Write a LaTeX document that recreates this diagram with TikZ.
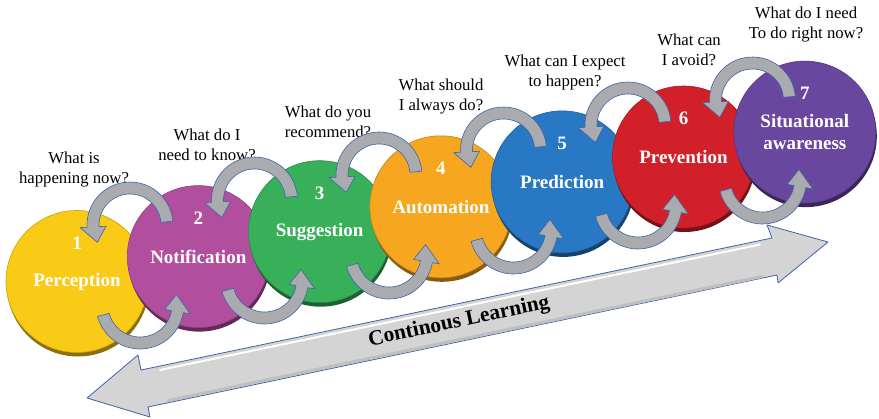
\documentclass[tikz,border=0pt]{standalone}
\usepackage{fontspec}
\setmainfont{Liberation Serif}
\usetikzlibrary{calc,shadows}
\definecolor{perc}{HTML}{F9CB17}
\definecolor{noti}{HTML}{B14E9E}
\definecolor{sugg}{HTML}{38AF59}
\definecolor{auto}{HTML}{F7A620}
\definecolor{pred}{HTML}{2878C3}
\definecolor{prev}{HTML}{D2202A}
\definecolor{situ}{HTML}{6A479F}
\definecolor{arrfill}{HTML}{A9ABAE}
\definecolor{arrline}{HTML}{3D63A9}
\definecolor{barfill}{HTML}{D4D4D4}
\tikzset{
  ball/.style={circle, minimum size=142bp, inner sep=0pt, fill=#1, draw=#1!80!black, line width=0.6pt,
    drop shadow={shadow xshift=1bp, shadow yshift=-4bp, fill=#1!55!black, opacity=1},
    text=white, font=\fontsize{19bp}{22bp}\selectfont\bfseries, align=center},
  num/.style={text=white, font=\fontsize{19bp}{22bp}\selectfont\bfseries, inner sep=0pt},
  ask/.style={text=black, font=\fontsize{16.7bp}{20bp}\selectfont, align=center, inner sep=0pt},
  looparrow/.style={fill=arrfill, draw=arrline, line width=0.6pt, line join=round},
  bigarr/.style={fill=barfill, draw=arrline, line width=0.8pt, line join=round},
  pics/ring/.style n args={4}{code={
    \path[looparrow] ({#2}:{#1+6}) arc[start angle=#2, end angle=#3, radius=#1+6]
      -- ({#3}:{#1+13}) -- ({#4}:{#1}) -- ({#3}:{#1-13}) -- ({#3}:{#1-6})
      arc[start angle=#3, end angle=#2, radius=#1-6] -- cycle;
  }},
}

\begin{document}
\begin{tikzpicture}[x=1bp, y=1bp]
  \useasboundingbox (0,0) rectangle (879,418);

  % big double arrow
  \draw[bigarr] (87,20) -- (138,63) -- (141,48) -- (772,180) -- (767,193) -- (828,176)
    -- (778,135) -- (777,143) -- (148,11) -- (150,1) -- cycle;
  \draw[white, line width=2bp, line cap=round] (160,48) -- (760,173.5);
  \draw[gray!50, line width=3bp, line cap=round] (168,17.5) -- (762,141.5);
  \node[rotate=12, font=\fontsize{21.5bp}{24bp}\selectfont\bfseries] (learn) at (459,96) {Continous Learning};

  % stages
  \node[ball=perc] (c1) at (77,136.5) {Perception};
  \node[num] (n1) at ($(c1)+(0,38.5)$) {1};
  \node[ball=noti] (c2) at (198.3,161.4) {Notification};
  \node[num] (n2) at ($(c2)+(0,38.5)$) {2};
  \node[ball=sugg] (c3) at (319.6,186.3) {Suggestion};
  \node[num] (n3) at ($(c3)+(0,38.5)$) {3};
  \node[ball=auto] (c4) at (440.9,211.2) {Automation};
  \node[num] (n4) at ($(c4)+(0,38.5)$) {4};
  \node[ball=pred] (c5) at (562.2,236.1) {Prediction};
  \node[num] (n5) at ($(c5)+(0,38.5)$) {5};
  \node[ball=prev] (c6) at (683.5,261) {Prevention};
  \node[num] (n6) at ($(c6)+(0,38.5)$) {6};
  \node[ball=situ] (c7) at (804.8,285.9) {Situational\\awareness};
  \node[num] (n7) at ($(c7)+(0,38.5)$) {7};

  % questions
  \node[ask] (q1) at (74,248) {What is\\happening now?};
  \node[ask] (q2) at (207,273) {What do I\\need to know?};
  \node[ask] (q3) at (328,296) {What do you\\recommend?};
  \node[ask] (q4) at (441,321) {What should\\I always do?};
  \node[ask] (q5) at (565,346) {What can I expect\\to happen?};
  \node[ask] (q6) at (689,368.5) {What can\\I avoid?};
  \node[ask] (q7) at (806,393) {What do I need\\To do right now?};

  % loops between stages
  \coordinate (t1) at (130,193);   \coordinate (b1) at (140,113);
  \coordinate (t2) at (254.5,218); \coordinate (b2) at (264.5,138);
  \coordinate (t3) at (379,243);   \coordinate (b3) at (389,163);
  \coordinate (t4) at (503.5,268); \coordinate (b4) at (513.5,188);
  \coordinate (t5) at (628,293);   \coordinate (b5) at (638,213);
  \coordinate (t6) at (752.5,318); \coordinate (b6) at (762.5,238);
  \pic at (t1) {ring={37}{5}{183}{208}};   \pic at (b1) {ring={38}{195}{350}{376}};
  \pic at (t2) {ring={37}{5}{183}{208}};   \pic at (b2) {ring={38}{195}{350}{376}};
  \pic at (t3) {ring={37}{5}{183}{208}};   \pic at (b3) {ring={38}{195}{350}{376}};
  \pic at (t4) {ring={37}{5}{183}{208}};   \pic at (b4) {ring={38}{195}{350}{376}};
  \pic at (t5) {ring={37}{5}{183}{208}};   \pic at (b5) {ring={38}{195}{350}{376}};
  \pic at (t6) {ring={37}{5}{183}{208}};   \pic at (b6) {ring={38}{195}{350}{376}};
\end{tikzpicture}
\end{document}
